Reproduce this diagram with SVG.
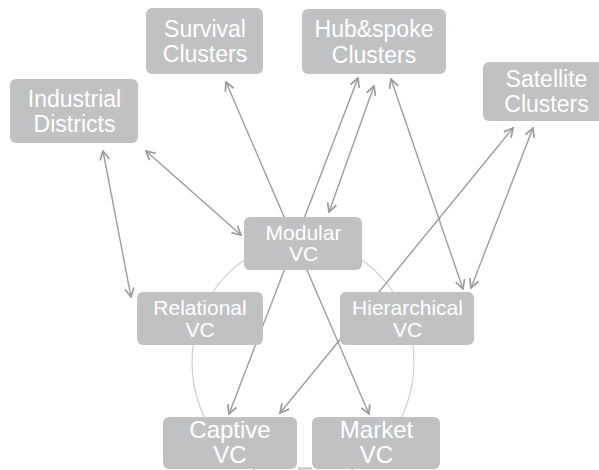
<svg xmlns="http://www.w3.org/2000/svg" width="599" height="470" viewBox="0 0 599 470">
  <style>
    .box { fill: #c0c1c3; }
    .lbl { font-family: "Liberation Sans", Arial, Helvetica, sans-serif; fill: #ffffff; text-anchor: middle; }
    .big { font-size: 23px; }
    .mid { font-size: 21px; }
    .btm { font-size: 24px; }
    .link { stroke: #9d9d9f; stroke-width: 1.4; fill: none; marker-start: url(#chev); marker-end: url(#chev); }
    .ring { stroke: #cfcfd0; stroke-width: 1.2; fill: none; }
  </style>
  <defs>
    <marker id="chev" viewBox="0 0 10 10" refX="9" refY="5" markerWidth="11" markerHeight="11" markerUnits="userSpaceOnUse" orient="auto-start-reverse">
      <path d="M1,0.8 L9,5 L1,9.2" fill="none" stroke="#9d9d9f" stroke-width="1.6" stroke-linejoin="miter"/>
    </marker>
  </defs>

  <rect width="599" height="470" fill="#ffffff"/>

  <!-- ring joining the five value-chain types -->
  <ellipse class="ring" cx="303" cy="362" rx="111" ry="120"/>

  <g id="connectors">
    <line class="link" x1="103" y1="151" x2="131" y2="297"/>
    <line class="link" x1="146" y1="151" x2="241" y2="235"/>
    <line class="link" x1="226" y1="82" x2="369" y2="414"/>
    <line class="link" x1="358" y1="78" x2="229" y2="414"/>
    <line class="link" x1="374" y1="86" x2="329" y2="212"/>
    <line class="link" x1="391" y1="79" x2="463" y2="289"/>
    <line class="link" x1="513" y1="128" x2="280" y2="413"/>
    <line class="link" x1="533" y1="128" x2="471" y2="288"/>
    <line x1="298" y1="468.5" x2="312" y2="468.5" stroke="#c0c1c3" stroke-width="2"/>
  </g>

  <g id="survival">
    <rect class="box" x="146" y="8" width="117" height="66" rx="6"/>
    <text class="lbl big" x="205" y="37">Survival</text>
    <text class="lbl big" x="205" y="62">Clusters</text>
  </g>
  <g id="industrial">
    <rect class="box" x="10" y="79" width="128" height="64" rx="6"/>
    <text class="lbl big" x="74.5" y="107">Industrial</text>
    <text class="lbl big" x="74.5" y="132">Districts</text>
  </g>
  <g id="hubspoke">
    <rect class="box" x="302" y="9" width="144" height="65" rx="6"/>
    <text class="lbl big" x="374" y="37">Hub&amp;spoke</text>
    <text class="lbl big" x="374" y="63">Clusters</text>
  </g>
  <g id="satellite">
    <rect class="box" x="483" y="62" width="126" height="59" rx="6"/>
    <text class="lbl big" x="546.5" y="87">Satellite</text>
    <text class="lbl big" x="546.5" y="112">Clusters</text>
  </g>
  <g id="modular">
    <rect class="box" x="244" y="217" width="118" height="53" rx="6"/>
    <text class="lbl mid" x="303.5" y="240">Modular</text>
    <text class="lbl mid" x="303.5" y="261">VC</text>
  </g>
  <g id="relational">
    <rect class="box" x="137" y="292" width="126" height="53" rx="6"/>
    <text class="lbl mid" x="200" y="315">Relational</text>
    <text class="lbl mid" x="200" y="337">VC</text>
  </g>
  <g id="hierarchical">
    <rect class="box" x="340" y="292" width="134" height="53" rx="6"/>
    <text class="lbl mid" x="407.5" y="315">Hierarchical</text>
    <text class="lbl mid" x="407.5" y="337">VC</text>
  </g>
  <g id="captive">
    <rect class="box" x="163" y="417" width="134" height="52" rx="6"/>
    <text class="lbl btm" x="230" y="438">Captive</text>
    <text class="lbl btm" x="230" y="463">VC</text>
  </g>
  <g id="market">
    <rect class="box" x="312" y="417" width="128" height="52" rx="6"/>
    <text class="lbl btm" x="376.5" y="438">Market</text>
    <text class="lbl btm" x="376.5" y="463">VC</text>
  </g>
</svg>
